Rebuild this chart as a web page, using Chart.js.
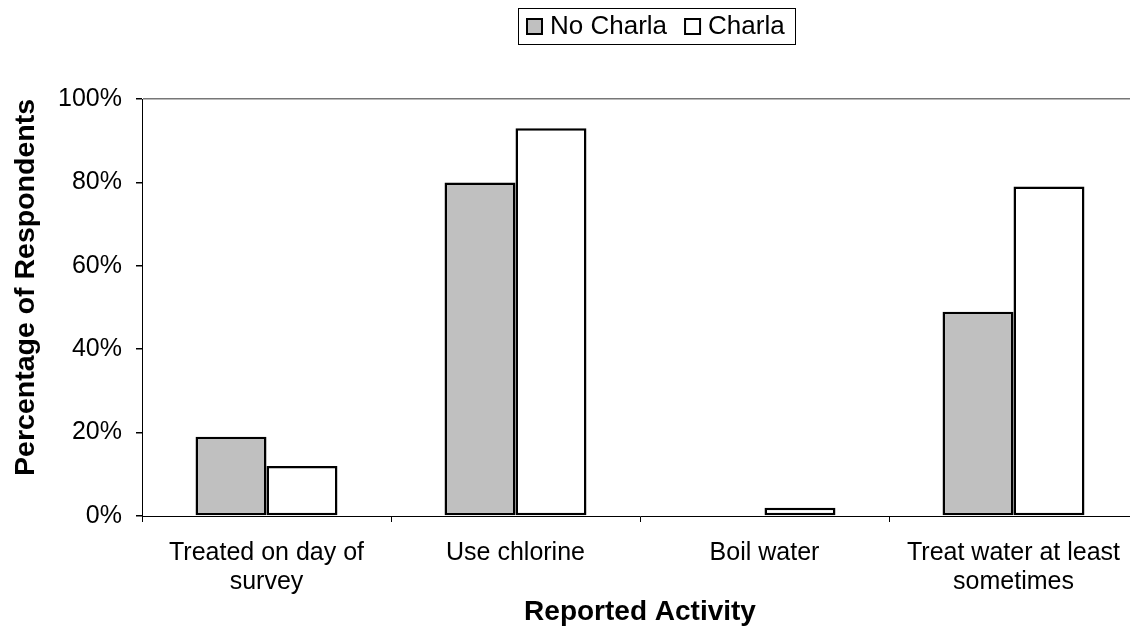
<!DOCTYPE html>
<html>
<head>
<meta charset="utf-8">
<script src="https://cdn.jsdelivr.net/npm/chart.js@4.4.1/dist/chart.umd.min.js"></script>
<style>
  html, body { margin: 0; padding: 0; background: #fff; overflow: hidden; }
  #wrap { width: 1140px; height: 632px; position: relative; }
</style>
</head>
<body>
<div id="wrap"><canvas id="c" width="1140" height="632"></canvas></div>
<script>
const categories = [["Treated on day of", "survey"], "Use chlorine", "Boil water", ["Treat water at least", "sometimes"]];
const noCharla = [19, 80, 0, 49];
const charla = [12, 93, 2, 79];
const seriesNames = ["No Charla", "Charla"];
const yTicks = [0, 20, 40, 60, 80, 100];
const xTitle = "Reported Activity";
const yTitle = "Percentage of Respondents";

const FONT = "'Liberation Sans', Arial, sans-serif";

const legendBox = {
  id: 'legendBox',
  afterDraw(chart) {
    const ctx = chart.ctx;
    ctx.save();
    ctx.font = "26px " + FONT;
    ctx.textBaseline = 'middle';
    const x0 = 518, y0 = 8, w = 277, h = 36;
    ctx.strokeStyle = '#000';
    ctx.lineWidth = 1;
    ctx.strokeRect(x0 + 0.5, y0 + 0.5, w, h);
    let x = x0 + 9;
    const cy = y0 + h / 2 + 1;
    chart.data.datasets.forEach((ds, i) => {
      ctx.fillStyle = ds.backgroundColor;
      ctx.fillRect(x, cy - 8, 15, 15);
      ctx.lineWidth = 2;
      ctx.strokeStyle = '#000';
      ctx.strokeRect(x, cy - 8, 15, 15);
      ctx.fillStyle = '#000';
      ctx.fillText(ds.label, x + 23, cy);
      x += 23 + ctx.measureText(ds.label).width + 18;
    });
    ctx.restore();
  }
};

new Chart(document.getElementById('c'), {
  type: 'bar',
  data: {
    labels: categories,
    datasets: [
      { label: seriesNames[0], data: noCharla, backgroundColor: '#c0c0c0', borderColor: '#000', borderWidth: 2.5, borderSkipped: false },
      { label: seriesNames[1], data: charla, backgroundColor: '#ffffff', borderColor: '#000', borderWidth: 2.5, borderSkipped: false }
    ]
  },
  options: {
    responsive: false,
    animation: false,
    devicePixelRatio: 1,
    layout: { padding: { top: 99, right: 2, left: 0, bottom: 0 } },
    plugins: { legend: { display: false }, tooltip: { enabled: false } },
    datasets: { bar: { categoryPercentage: 0.57, barPercentage: 1 } },
    scales: {
      x: {
        grid: { color: 'transparent', tickColor: '#000', tickLength: 6, offset: true },
        border: { color: '#000', width: 1 },
        ticks: { color: '#000', font: { family: FONT, size: 25, lineHeight: 1.18 }, padding: 16, maxRotation: 0, autoSkip: false },
        title: { display: true, text: xTitle, color: '#000', font: { family: FONT, size: 28, weight: 'bold' }, padding: { top: 3, bottom: 3 } },
        afterFit(s) { s.height = 116; }
      },
      y: {
        min: 0, max: 100,
        afterBuildTicks(s) { s.ticks = yTicks.map(v => ({ value: v })); },
        grid: {
          color: c => (c.tick && c.tick.value === 100) ? '#777' : 'transparent',
          tickColor: '#000', tickLength: 6, lineWidth: 1.5
        },
        border: { color: '#000', width: 1 },
        ticks: { color: '#000', font: { family: FONT, size: 25 }, padding: 14, callback: v => v + '%' },
        title: { display: true, text: yTitle, align: 'end', color: '#000', font: { family: FONT, size: 28.5, weight: 'bold' }, padding: { top: 9, bottom: 0 } },
        afterFit(s) { s.width = 142; }
      }
    }
  },
  plugins: [legendBox]
});
</script>
</body>
</html>
